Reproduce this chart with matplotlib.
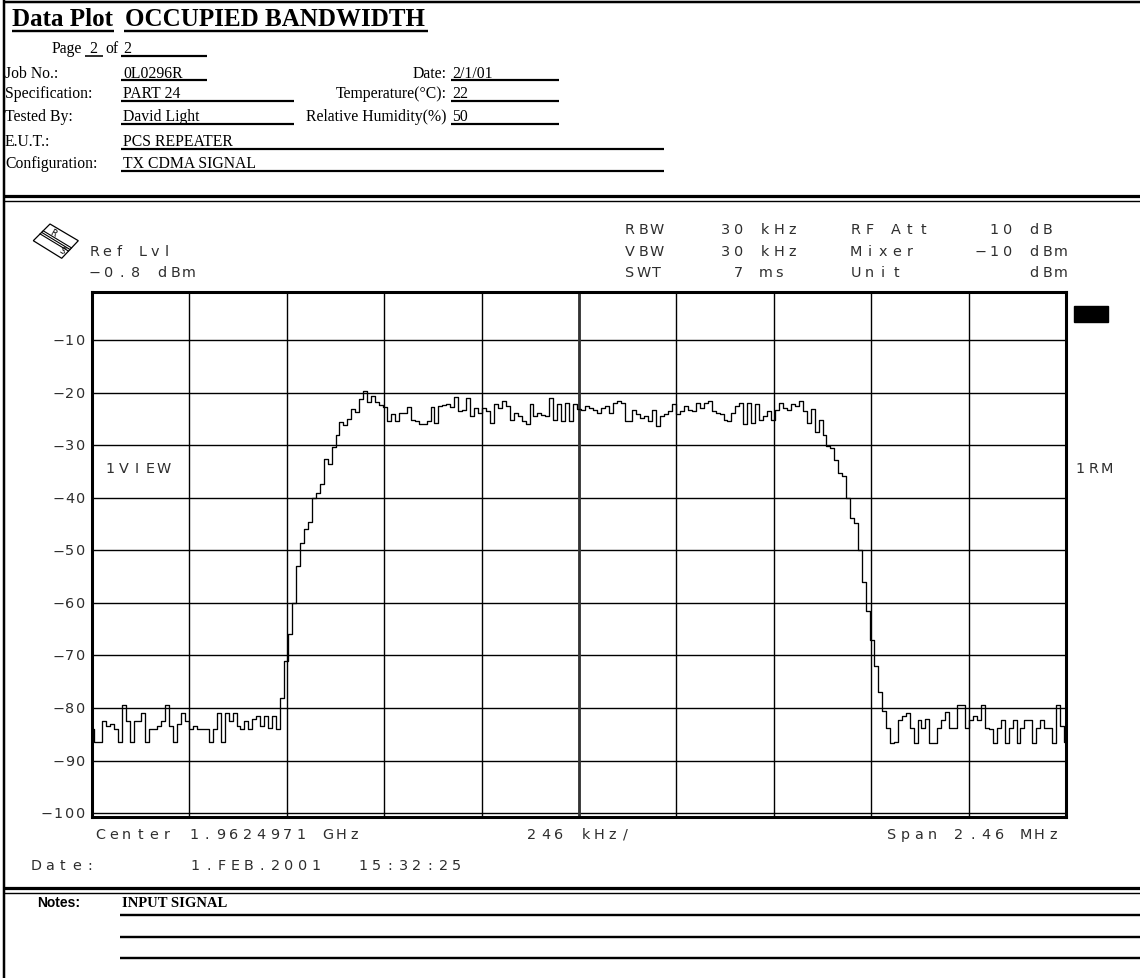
import numpy as np
import matplotlib
matplotlib.use("Agg")
import matplotlib.pyplot as plt
from matplotlib.patches import Polygon, Rectangle

W, H = 1140, 979

# ---------------------------------------------------------------- report data
TITLE_LEFT = "Data Plot"
TITLE_RIGHT = "OCCUPIED BANDWIDTH"
PAGE_NO, PAGE_TOTAL = "2", "2"
LEFT_LABELS = ["Job No.:", "Specification:", "Tested By:", "E.U.T.:", "Configuration:"]
LEFT_VALUES = ["0L0296R", "PART 24", "David Light", "PCS REPEATER", "TX CDMA SIGNAL"]
RIGHT_LABELS = ["Date:", "Temperature(\u00b0C):", "Relative Humidity(%)"]
RIGHT_VALUES = ["2/1/01", "22", "50"]
NOTES = ["INPUT SIGNAL", "", ""]

# ---------------------------------------------------------- analyzer settings
REF_LEVEL = -0.8
SPAN_KHZ = 2460.0
DIV_KHZ = 246.0
Y_TICKS = [-10, -20, -30, -40, -50, -60, -70, -80, -90, -100]
SETTINGS_ROWS = [
    ["RBW", "30 kHz", "RF Att", "10 dB"],
    ["VBW", "30 kHz", "Mixer", "\u221210 dBm"],
    ["SWT", "7 ms", "Unit", "dBm"],
]
FOOT_CENTER = "Center 1.9624971 GHz"
FOOT_DIV = "246 kHz/"
FOOT_SPAN = "Span 2.46 MHz"
FOOT_DATE = ["Date:", "1.FEB.2001", "15:32:25"]

# ------------------------------------------------------- measured trace (dBm)
floor_left = [-84, -86.5, -86.5, -82.5, -83.5, -83, -84, -86.5, -79.5, -82.5,
              -86.5, -82.5, -82.5, -81, -86.5, -84, -84, -83.5, -82.5, -79.5,
              -83.5, -86.5, -83, -81, -82.5, -84, -83.5, -84, -84, -84,
              -86.5, -84, -81, -86.5, -81, -82.5, -81, -83.5, -84, -82.5,
              -84, -82, -81.5, -83.5, -81.5, -83.8, -81.5, -84]
rise_left = [-78, -71, -66, -60, -53, -48.5, -46, -44.5, -40, -39,
             -37.3, -32.5, -33.6, -30.3, -28.1, -25.6, -26.2, -24.9, -23, -23.6,
             -21.2, -19.6, -21.8, -20.6, -21.8, -22.4, -22.7]
top_left = [-25.4, -24, -25.4, -23.8, -23.8, -22.6, -25.1, -25.4, -26, -26,
            -25.4, -22.6, -25.7, -22.5, -22.4, -22.2, -22.6, -20.8, -23.5, -23.2,
            -21, -24.5, -22.8, -23.8, -22.9, -23.5, -25.7, -22.2, -22.9, -21.6,
            -22.5, -25.1, -23.8, -24.5, -25.4, -26, -22.2, -24.5, -23.8, -24.2,
            -24.5, -21, -25.1, -22.2, -25.4, -22, -25.4, -22.2]
top_right = [-23, -23.2, -22.5, -22.9, -23.2, -23.8, -22.9, -22.5, -23.8, -21.9,
             -21.6, -21.9, -25.4, -25.4, -23.2, -24.1, -24.8, -24.5, -25.4, -23.2,
             -26.3, -24.5, -24.1, -23.5, -22.2, -24.1, -23.5, -22.5, -23.2, -23.5,
             -21.9, -22.9, -21.9, -21.6, -23.5, -23.8, -24.1, -25.1, -25.4, -23.8,
             -22.5, -21.9, -26, -21.9, -25.7, -22.2, -25.1, -24.5, -23.5, -25.1,
             -23.2, -21.9, -22.9, -23.2, -22.2, -22.5, -21.6, -23.5, -25.7, -23,
             -27.5, -25.1]
fall_right = [-28, -30.2, -30.5, -32.7, -35.3, -35.9, -40, -43.9, -44.8, -50,
              -56, -61.5, -67, -72, -77, -80.5, -83.8]
floor_right = [-86.7, -86.5, -82.3, -81.5, -81, -83.9, -86.7, -82.3, -83.9, -82,
               -86.7, -86.7, -83.9, -82.3, -80.8, -83.9, -83.9, -79.5, -79.5, -83.9,
               -82.3, -81.5, -82.3, -79.5, -83.9, -84, -86.7, -83.9, -82.3, -86.7,
               -83.9, -82.3, -86.7, -83.9, -82.3, -82.3, -86.7, -83.9, -82.3, -83.9,
               -83.9, -86.7, -79.5, -83.5, -86.5]

levels = np.array(floor_left + rise_left + top_left + top_right + fall_right + floor_right)
freq = np.linspace(-SPAN_KHZ / 2, SPAN_KHZ / 2, len(levels))

# ------------------------------------------------------------------- figure
fig = plt.figure(figsize=(W / 100, H / 100), dpi=100)
fig.patch.set_facecolor("white")
page = fig.add_axes([0, 0, 1, 1])
page.set_xlim(0, W)
page.set_ylim(H, 0)
page.axis("off")

SERIF = ["Liberation Serif", "DejaVu Serif"]


def hline(x0, x1, y, px):
    page.plot([x0, x1], [y, y], color="k", lw=px * 0.72, solid_capstyle="butt")


def vline(x, y0, y1, px):
    page.plot([x, x], [y0, y1], color="k", lw=px * 0.72, solid_capstyle="butt")


def serif(x, y, s, size=11.3, bold=False, ha="left"):
    page.text(x, y, s, ha=ha, va="baseline", family=SERIF, fontsize=size,
              fontweight="bold" if bold else "normal", color="k")


INST = dict(family=["DejaVu Sans"], fontweight="normal", fontsize=10.4, color="#2e2e2e")


def inst(x, y, s, adv=13.4):
    """Instrument style text on a fixed character grid (x = left of first cell)."""
    for i, ch in enumerate(s):
        if ch != " ":
            page.text(x + i * adv + 5, y, ch, ha="center", va="center", **INST)


# page frame and section separators
vline(4, 0, H, 2.5)
hline(4, W, 2.5, 2.5)
hline(4, W, 196.5, 3.2)
hline(4, W, 201.5, 1.4)
hline(4, W, 888.5, 3.2)
hline(4, W, 893.5, 1.4)

# header
serif(12, 26.5, TITLE_LEFT, size=18, bold=True)
hline(12, 114, 31.5, 2.4)
serif(125, 26.5, TITLE_RIGHT, size=18, bold=True)
hline(124, 428, 31.5, 2.4)

serif(52, 53, "Page")
serif(89, 53, PAGE_NO)
hline(85, 103, 56.5, 1.6)
serif(105, 53, "of")
serif(123, 53, PAGE_TOTAL)
hline(121, 207, 56.5, 2.2)

row_base = [77.5, 98.5, 121, 146, 168.5]
row_line = [80.5, 101.5, 124.5, 149.5, 172]
left_line_end = [207, 294, 294, 664, 664]
for lab, val, yb, yl, xe in zip(LEFT_LABELS, LEFT_VALUES, row_base, row_line, left_line_end):
    serif(5, yb, lab)
    serif(123, yb, val)
    hline(121, xe, yl, 2.2)
for lab, val, yb, yl in zip(RIGHT_LABELS, RIGHT_VALUES, row_base, row_line):
    serif(447, yb, lab, ha="right")
    serif(452, yb, val)
    hline(451, 559, yl, 2.2)

# notes
page.text(37, 907, "Notes:", ha="left", va="baseline",
          family=["Liberation Sans", "DejaVu Sans"], fontsize=10, fontweight="bold")
serif(122, 907, NOTES[0], size=10.5, bold=True)
for y in [916, 938, 959]:
    hline(120, W, y, 2.4)

# R&S logo
L, T, R, B = (33.3, 241.7), (50.0, 225.0), (78.3, 241.7), (61.7, 259.3)
page.add_patch(Polygon([L, T, R, B], closed=True, fill=False, ec="k", lw=0.9))
m1 = np.array([(L[0] + T[0]) / 2, (L[1] + T[1]) / 2])
m2 = np.array([(B[0] + R[0]) / 2, (B[1] + R[1]) / 2])
u = np.array([T[0] - L[0], T[1] - L[1]])
u = u / np.hypot(*u)
for k in (-1, 0, 1):
    p, q = m1 + k * 2.2 * u, m2 + k * 2.2 * u
    page.plot([p[0], q[0]], [p[1], q[1]], color="k", lw=0.8)
page.text(53, 233.5, "R", ha="center", va="center", fontsize=6, rotation=-30,
          family=["DejaVu Sans"])
page.text(62, 251.5, "S", ha="center", va="center", fontsize=6, rotation=-30,
          family=["DejaVu Sans"])

# analyzer annotations
inst(90, 252, "Ref Lvl", adv=12)
inst(90, 273, "\u22120.8 dBm")
for row, y in zip(SETTINGS_ROWS, [230, 252, 273]):
    inst(625, y, row[0])
    if row[1].startswith("7"):
        inst(733.4, y, row[1])
    else:
        inst(720, y, row[1])
    inst(851, y, row[2])
    unit_pos = row[3].index("d")
    inst(1029 - unit_pos * 13.4, y, row[3])
inst(105, 469, "1VIEW")
inst(1075, 469, "1RM")
page.add_patch(Rectangle((1074, 307), 34, 16, color="k"))
inst(95, 835, FOOT_CENTER)
inst(527, 835, FOOT_DIV)
inst(887, 835, FOOT_SPAN)
inst(31, 866, FOOT_DATE[0])
inst(190, 866, FOOT_DATE[1])
inst(358, 866, FOOT_DATE[2])

# ------------------------------------------------------------ spectrum plot
ax = fig.add_axes([92 / W, 1 - 818 / H, (1066 - 92) / W, (818 - 293) / H])
ax.set_xlim(-SPAN_KHZ / 2, SPAN_KHZ / 2)
ax.set_ylim(-100.75, REF_LEVEL)
ax.set_xticks(-SPAN_KHZ / 2 + DIV_KHZ * np.arange(11))
ax.set_yticks(Y_TICKS)
ax.tick_params(length=0, labelleft=False, labelbottom=False)
ax.grid(True, color="k", lw=1.0)
ax.set_axisbelow(True)
ax.axvline(0, color="#333333", lw=2.0, zorder=1.5)
ax.plot(freq, levels, color="k", lw=0.95, drawstyle="steps-mid", zorder=3)
ax.set_facecolor("none")
for sp in ax.spines.values():
    sp.set_linewidth(2.2)
    sp.set_color("k")

# level labels placed from the axis scale
for v in Y_TICKS:
    ypix = H - ax.transData.transform((0, v))[1]
    s = "\u2212" + str(abs(v))
    n = len(s)
    for i, ch in enumerate(s):
        page.text(81 - (n - 1 - i) * 11.5, ypix, ch, ha="center", va="center", **INST)

fig.savefig("out.png", dpi=100)
